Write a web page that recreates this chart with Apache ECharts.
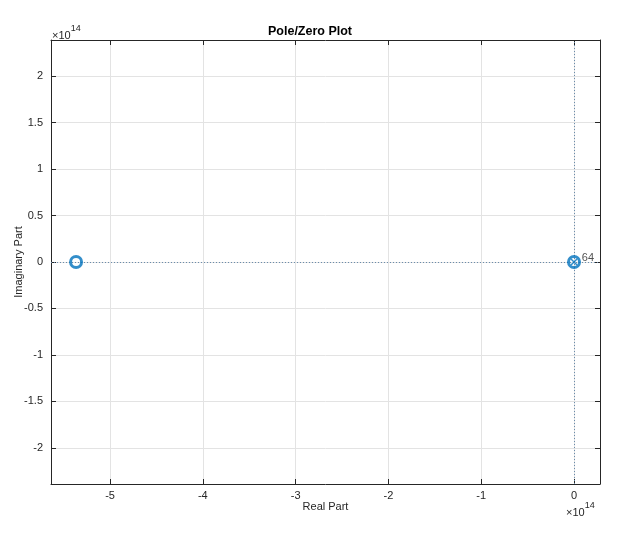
<!DOCTYPE html>
<html><head><meta charset="utf-8">
<script src="https://cdn.jsdelivr.net/npm/echarts@6/dist/echarts.min.js"></script>
<style>html,body{margin:0;padding:0;background:#fff}#c{width:620px;height:545px}</style>
</head><body><div id="c"></div>
<script>
// values in units of 1e14
const xTicks = [-5, -4, -3, -2, -1, 0];
const yTicks = [-2, -1.5, -1, -0.5, 0, 0.5, 1, 1.5, 2];
const zerosRe = [-5.366, 0];
const zerosIm = [0, 0];
const polesRe = [0];
const polesIm = [0];
const poleMultiplicity = ['64'];
const xRange = [-5.636, 0.28];
const yRange = [-2.39, 2.39];

const blue = '#0072BD';
const axisCol = '#262626';
const font = 'Liberation Sans, Arial, Helvetica, sans-serif';

const chart = echarts.init(document.getElementById('c'), null, {renderer: 'canvas'});

function axisCommon(ticks, showLabel) {
  return {
    type: 'value',
    axisLine: {show: true, onZero: false, lineStyle: {color: axisCol, width: 1}},
    axisTick: {show: true, inside: true, length: 5, customValues: ticks, lineStyle: {color: axisCol}},
    axisLabel: {show: showLabel, customValues: ticks, color: axisCol, fontFamily: font, fontSize: 11,
      formatter: v => String(Math.round(v * 100) / 100)},
    splitLine: {show: showLabel, lineStyle: {color: '#e3e3e3', width: 1}},
  };
}

const zeroData = zerosRe.map((r, i) => [r, zerosIm[i]]);
const poleData = polesRe.map((r, i) => [r, polesIm[i]]);

chart.setOption({
  animation: false,
  backgroundColor: '#fff',
  title: {text: 'Pole/Zero Plot', left: 'center', top: 20,
    textStyle: {fontFamily: font, fontSize: 12.5, fontWeight: 'bold', color: '#000'}},
  grid: {left: 51, right: 20, top: 40, bottom: 61, outerBoundsMode: 'none', containLabel: false},
  xAxis: [
    Object.assign(axisCommon(xTicks, true), {min: xRange[0], max: xRange[1], position: 'bottom',
      name: 'Real Part', nameLocation: 'middle', nameGap: 17, nameMoveOverlap: false,
      nameTextStyle: {fontFamily: font, fontSize: 11, color: axisCol},
      axisLabel: {customValues: xTicks, color: axisCol, fontFamily: font, fontSize: 11, margin: 6,
        formatter: v => String(Math.round(v * 100) / 100)}}),
    Object.assign(axisCommon(xTicks, false), {min: xRange[0], max: xRange[1], position: 'top'})
  ],
  yAxis: [
    Object.assign(axisCommon(yTicks, true), {min: yRange[0], max: yRange[1], position: 'left',
      name: 'Imaginary Part', nameLocation: 'middle', nameGap: 27, nameMoveOverlap: false,
      nameTextStyle: {fontFamily: font, fontSize: 11, color: axisCol},
      axisLabel: {customValues: yTicks, color: axisCol, fontFamily: font, fontSize: 11, margin: 8,
        formatter: v => String(Math.round(v * 100) / 100)}}),
    Object.assign(axisCommon(yTicks, false), {min: yRange[0], max: yRange[1], position: 'right'})
  ],
  series: [
    {
      type: 'scatter', name: 'zeros', data: zeroData, z: 5,
      symbol: 'circle', symbolSize: 11,
      itemStyle: {color: 'rgba(0,0,0,0)', borderColor: blue, borderWidth: 3},
      markLine: {
        silent: true, symbol: 'none', label: {show: false},
        lineStyle: {type: [1, 2], color: '#6a8cab', width: 1},
        data: [{yAxis: 0}, {xAxis: 0}]
      }
    },
    {
      type: 'scatter', name: 'poles', data: poleData, z: 6,
      symbol: 'path://M0,0 L10,10 M10,0 L0,10', symbolSize: 6,
      itemStyle: {color: 'rgba(0,0,0,0)', borderColor: blue, borderWidth: 1.5},
      label: {show: true, position: 'right', offset: [-1, -4], color: axisCol, fontFamily: font, fontSize: 11,
        formatter: p => poleMultiplicity[p.dataIndex]}
    }
  ],
  graphic: [
    {type: 'text', left: 52, top: 24, style: {
      text: '{a|×10}{b|14}', fontFamily: font,
      rich: {a: {fontSize: 11, fill: axisCol, verticalAlign: 'bottom'}, b: {fontSize: 9, fill: axisCol, padding: [0, 0, 8, 0]}}}},
    {type: 'text', left: 566, top: 501, style: {
      text: '{a|×10}{b|14}', fontFamily: font,
      rich: {a: {fontSize: 11, fill: axisCol, verticalAlign: 'bottom'}, b: {fontSize: 9, fill: axisCol, padding: [0, 0, 8, 0]}}}}
  ]
});
</script></body></html>
